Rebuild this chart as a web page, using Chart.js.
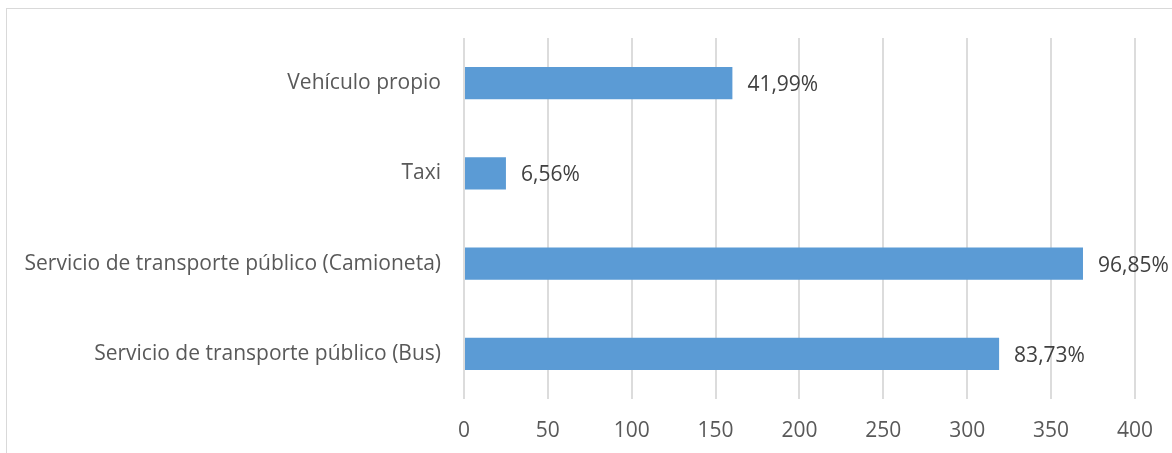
<!DOCTYPE html>
<html>
<head>
<meta charset="utf-8">
<script src="https://cdn.jsdelivr.net/npm/chart.js@4"></script>
<style>
  body { margin: 0; background: #fff; }
  #frame { position: absolute; left: 6px; top: 8px; width: 1300px; height: 600px; border: 1px solid #d9d9d9; }
  #wrap { position: absolute; left: 0; top: 0; width: 1172px; height: 453px; }
</style>
</head>
<body>
<div id="frame"></div>
<div id="wrap"><canvas id="myChart"></canvas></div>
<script>
var categorias = ["Vehículo propio", "Taxi", "Servicio de transporte público (Camioneta)", "Servicio de transporte público (Bus)"];
var respuestas = [160, 25, 369, 319];
var porcentajes = ["41,99%", "6,56%", "96,85%", "83,73%"];

var fuente = "'Open Sans', sans-serif";

// etiquetas al final de cada barra
const etiquetas = {
  id: "etiquetas",
  afterDatasetsDraw(chart) {
    const ctx = chart.ctx;
    const meta = chart.getDatasetMeta(0);
    ctx.save();
    ctx.font = "21px " + fuente;
    ctx.fillStyle = "#404040";
    ctx.textAlign = "left";
    ctx.textBaseline = "middle";
    meta.data.forEach((bar, i) => {
      ctx.fillText(porcentajes[i], bar.x + 15, bar.y + 2);
    });
    ctx.restore();
  }
};

const data = {
  labels: categorias,
  datasets: [
    {
      label: "Respuestas",
      backgroundColor: "#5b9bd5",
      data: respuestas,
      barPercentage: 0.36,
      categoryPercentage: 1,
    }
  ]
};

const config = {
  type: "bar",
  data: data,
  options: {
    indexAxis: "y",
    responsive: false,
    animation: false,
    layout: { padding: { left: 6, top: 38, right: 34, bottom: 0 } },
    plugins: { legend: { display: false }, tooltip: { enabled: false } },
    scales: {
      x: {
        min: 0,
        max: 400,
        ticks: { stepSize: 50, color: "#595959", font: { size: 21, family: fuente }, padding: 19 },
        grid: { color: "#dcdcdc", lineWidth: 2, drawTicks: false },
        border: { display: false },
        afterFit: (scale) => { scale.height = 54; }
      },
      y: {
        ticks: { color: "#595959", font: { size: 21, family: fuente }, padding: 15 },
        grid: { display: false },
        border: { display: false },
        afterFit: (scale) => { scale.width = 458; }
      }
    }
  },
  plugins: [etiquetas]
};

const canvas = document.getElementById("myChart");
canvas.width = 1172;
canvas.height = 453;
new Chart(canvas, config);
</script>
</body>
</html>
